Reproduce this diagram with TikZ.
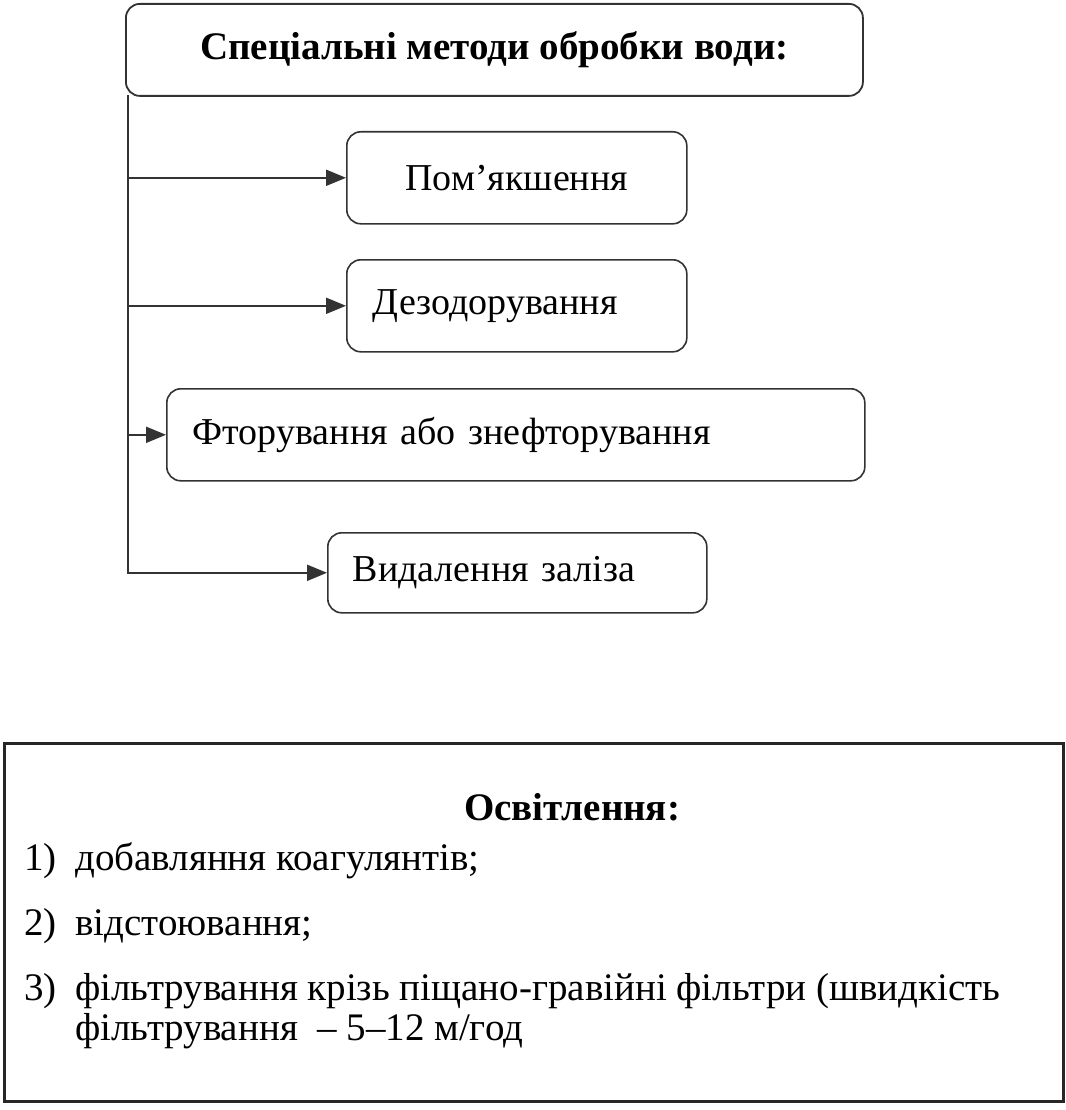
\documentclass[tikz,border=0pt]{standalone}
\usepackage{fontspec}
\setmainfont{Liberation Serif}
\usetikzlibrary{arrows.meta,positioning}

\begin{document}
\begin{tikzpicture}[x=1pt, y=-1pt,
    headbox/.style={draw=black!80, rounded corners=14pt, line width=1.8pt, minimum width=737pt, minimum height=92pt, anchor=north west, font=\fontsize{39}{45}\selectfont\bfseries},
    method/.style={draw=black!80, rounded corners=14pt, line width=1.6pt, minimum height=92pt, anchor=north west, font=\fontsize{38}{44}\selectfont},
    branch/.style={draw=black!80, line width=2pt, -{Triangle[length=20pt,width=16pt]}},
    listbox/.style={draw=black!85, line width=2.6pt, minimum width=1059pt, minimum height=358pt, anchor=north west},
    item/.style={anchor=base west, inner sep=0pt, font=\fontsize{39}{45}\selectfont}
    ]
    \useasboundingbox (0,0) rectangle (1065,1110);

    \node [headbox] (head) at (125,3) {Спеціальні методи обробки води:};
    \coordinate (trunk) at (128,95);

    \node [method, minimum width=340pt] (soft) at (346,131) {Пом’якшення};
    \node [method, text width=288pt, inner xsep=26pt, align=left] (deodor) at (346,259) {Дезодорування};
    \node [method, text width=646pt, inner xsep=26pt, align=left] (fluor) at (166,388) {Фторування або знефторування};
    \node [method, text width=329pt, inner xsep=25pt, align=left, minimum height=80pt] (iron) at (327,532) {Видалення заліза};

    \draw [branch] (trunk) |- (iron.west);
    \draw [branch] (trunk |- soft.west) -- (soft.west);
    \draw [branch] (trunk |- deodor.west) -- (deodor.west);
    \draw [branch] (trunk |- fluor.west) -- (fluor.west);

    % clarification
    \node [listbox] (clar) at (3,742) {};
    \node [item, anchor=base, font=\fontsize{39}{45}\selectfont\bfseries] (title) at (572,820) {Освітлення:};
    \node [item] (n1) at (24,870) {1)};
    \node [item] (i1) at (75,870) {добавляння коагулянтів;};
    \node [item] (n2) at (24,935) {2)};
    \node [item] (i2) at (75,935) {відстоювання;};
    \node [item] (n3) at (24,1000) {3)};
    \node [item] (i3) at (75,1000) {фільтрування крізь піщано-гравійні фільтри (швидкість};
    \node [item] (i3b) at (75,1040) {фільтрування~~– 5–12 м/год};
\end{tikzpicture}
\end{document}
